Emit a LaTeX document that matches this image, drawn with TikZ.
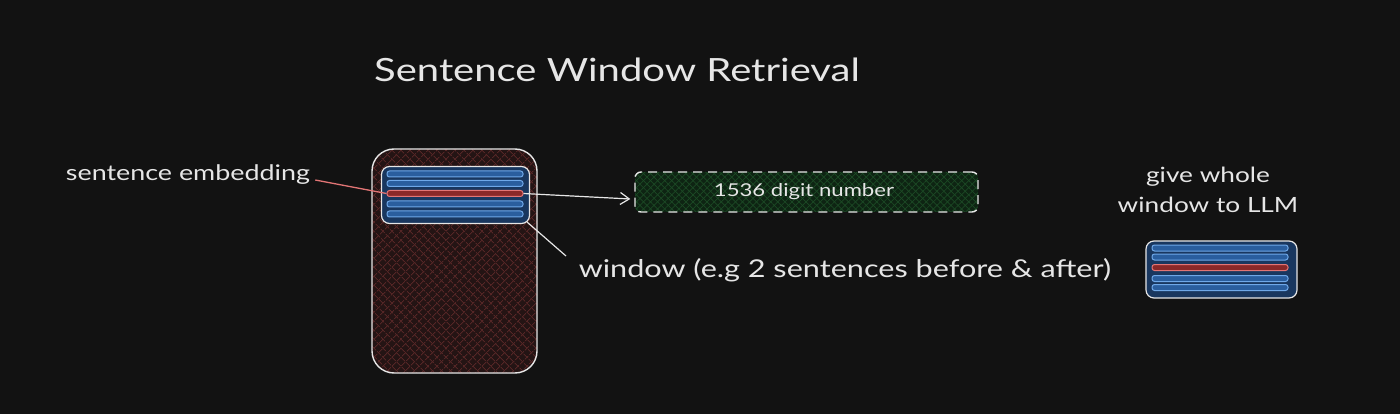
\documentclass[tikz,border=0pt]{standalone}
\usepackage{fontspec}
\setmainfont[FakeStretch=1.25]{Lato}
\usetikzlibrary{patterns.meta,arrows.meta}
\definecolor{bg}{HTML}{121212}
\definecolor{ink}{HTML}{E6E6E6}
\definecolor{redfill}{HTML}{241414}
\definecolor{redhatch}{HTML}{552626}
\definecolor{winfill}{HTML}{19375F}
\definecolor{stripfill}{HTML}{2A5E9E}
\definecolor{stripline}{HTML}{6FA8E8}
\definecolor{rstripfill}{HTML}{8A2828}
\definecolor{rstripline}{HTML}{E27575}
\definecolor{grfill}{HTML}{0E2413}
\definecolor{grhatch}{HTML}{1C4A25}
\tikzset{
  x=1pt,y=-1pt,
  txt/.style={text=ink,inner sep=0pt,font=\fontsize{22}{26}\selectfont},
  outerbox/.style={draw=ink,line width=1.4pt,rounded corners=22pt,
    minimum width=165pt,minimum height=224pt,
    preaction={fill=redfill},
    preaction={pattern={Lines[angle=45,distance=6.5pt,line width=0.8pt]},pattern color=redhatch},
    preaction={pattern={Lines[angle=-45,distance=6.5pt,line width=0.8pt]},pattern color=redhatch}},
  winbox/.style={draw=ink,line width=1.2pt,rounded corners=8pt,fill=winfill,
    minimum width=#1,minimum height=57pt},
  strip/.style={draw=stripline,line width=1pt,fill=stripfill,rounded corners=2.5pt,
    minimum width=136pt,minimum height=6pt,inner sep=0pt},
  rstrip/.style={draw=rstripline,line width=1pt,fill=rstripfill,rounded corners=2.5pt,
    minimum width=136pt,minimum height=6pt,inner sep=0pt},
  dbox/.style={draw=ink,dash pattern=on 9pt off 6pt,line width=1.4pt,rounded corners=6pt,
    minimum width=343pt,minimum height=40pt,
    preaction={fill=grfill},
    preaction={pattern={Lines[angle=45,distance=5pt,line width=0.7pt]},pattern color=grhatch},
    preaction={pattern={Lines[angle=-45,distance=5pt,line width=0.7pt]},pattern color=grhatch}},
  conn/.style={draw=ink,line width=1.2pt},
}
\begin{document}
\begin{tikzpicture}
\fill[bg] (0,0) rectangle (1400,414);
\useasboundingbox (0,0) rectangle (1400,414);

\node[txt,font=\fontsize{32}{36}\selectfont] (title) at (617,70) {Sentence Window Retrieval};

\node[outerbox] (outer) at (454.5,261) {};
\node[winbox=148pt] (win) at (455.5,195) {};
\node[strip] (s1) at (455,174) {};
\node[strip] (s2) at (455,183.5) {};
\node[rstrip] (s3) at (455,193.5) {};
\node[strip] (s4) at (455,204) {};
\node[strip] (s5) at (455,214) {};

\node[txt,font=\fontsize{21.5}{26}\selectfont] (emb) at (188,175) {sentence embedding};
\draw[draw=rstripline,line width=1.3pt] (emb.east) ++(5,5) coordinate (embend) (embend) -- (s3.west);

\node[dbox] (num) at (806.5,192) {};
\node[txt,font=\fontsize{17.7}{20}\selectfont] (numtxt) at (804,192) {1536 digit number};
\draw[conn,-{Straight Barb[length=9pt,width=12pt]}] (s3.east) -- ([xshift=-4pt,yshift=-7pt]num.west);

\node[txt,font=\fontsize{24.5}{28}\selectfont] (wintxt) at (845,270) {window (e.g 2 sentences before \& after)};
\coordinate (winend) at (566,256);
\draw[conn] (win.south east) ++(-3,-2) coordinate (wse) (wse) -- (winend);

\node[txt,align=center,font=\fontsize{21}{30}\selectfont] (give) at (1208,190) {give whole\\window to LLM};

\node[winbox=151pt] (rwin) at (1221.5,269.5) {};
\node[strip] (r1) at (1220,248) {};
\node[strip] (r2) at (1220,257) {};
\node[rstrip] (r3) at (1220,267.5) {};
\node[strip] (r4) at (1220,278.5) {};
\node[strip] (r5) at (1220,287.5) {};
\end{tikzpicture}
\end{document}
